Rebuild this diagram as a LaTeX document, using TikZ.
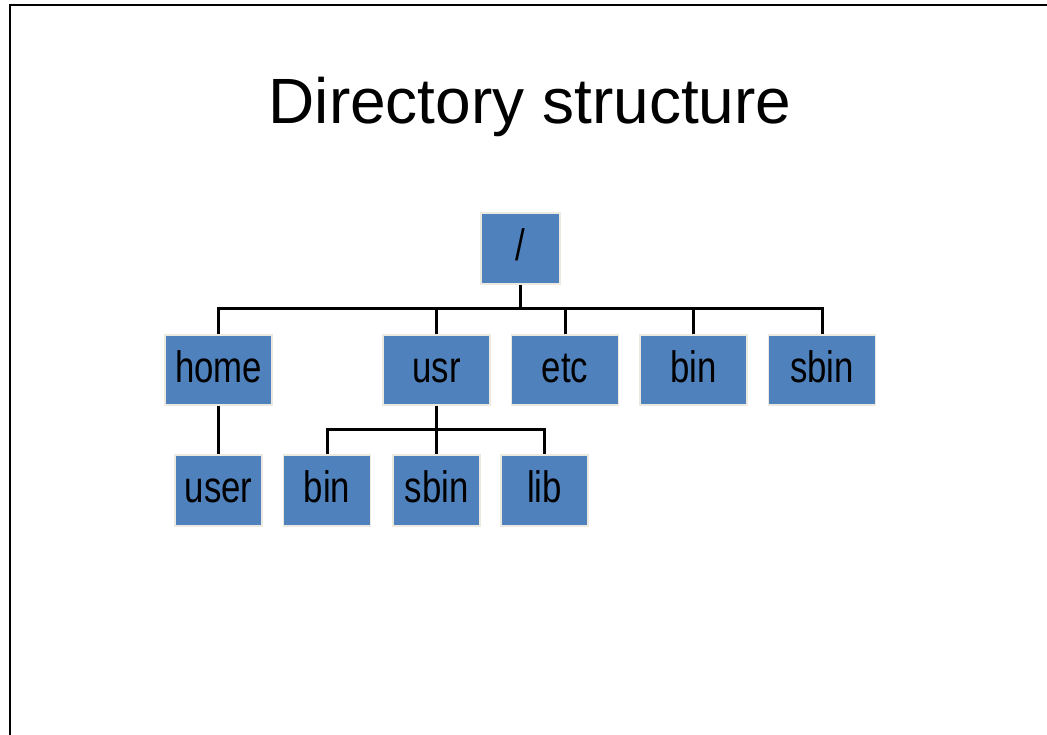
\documentclass[tikz,border=0pt]{standalone}
\usepackage{fontspec}
\setmainfont{Liberation Sans}
\newfontfamily\dirfont[FakeStretch=0.79]{Liberation Sans}
\usetikzlibrary{positioning,calc}
\definecolor{dirblue}{RGB}{79,129,189}
\definecolor{dircream}{RGB}{236,234,224}
\tikzset{
dir/.style={
  draw=dircream, fill=dirblue, line width=1.2pt,
  inner sep=0pt, minimum width=107pt, minimum height=70pt,
  text height=32pt, text depth=8pt,
  font=\dirfont\fontsize{44}{50}\selectfont
  },
subdir/.style={
  dir, minimum width=87pt, minimum height=71pt
  },
branch/.style={
  line width=3pt
  }
}
\begin{document}
\begin{tikzpicture}[x=1pt,y=-1pt]
  \useasboundingbox (0,0) rectangle (1047,735);
  \draw[line width=2.6pt] (10,745) -- (10,5) -- (1055,5);

  \node (title) at (530,101) [text height=46pt, text depth=0pt,
    font=\fontsize{64}{70}\selectfont] {Directory structure};

  \node (root) at (520.5,248.5) [dir, minimum width=79pt, minimum height=71pt] {/};

  \node (home) at (218.5,370) [dir] {home};
  \node (usr)  at (436.5,370) [dir] {usr};
  \node (etc)  at (565,370)   [dir] {etc};
  \node (bin)  at (693.5,370) [dir] {bin};
  \node (sbin) at (822,370)   [dir] {sbin};

  \node (user)  at (218.5,490.5) [subdir] {user};
  \node (ubin)  at (327,490.5)   [subdir] {bin};
  \node (usbin) at (436.5,490.5) [subdir] {sbin};
  \node (ulib)  at (544.5,490.5) [subdir] {lib};

  \coordinate (bus) at (0,309);
  \coordinate (ubus) at (0,429);

  \draw [branch] (root.south) -- (root.south |- bus);
  \draw [branch] (home.north) |- (sbin.north |- bus) -- (sbin.north);
  \foreach \Dir in {usr,etc,bin} {
    \draw [branch] (\Dir.north) -- (\Dir.north |- bus);
  }

  \draw [branch] (home.south) -- (user.north);

  \draw [branch] (usr.south) -- (usbin.north);
  \draw [branch] (ubin.north) |- (ulib.north |- ubus) -- (ulib.north);
\end{tikzpicture}
\end{document}
